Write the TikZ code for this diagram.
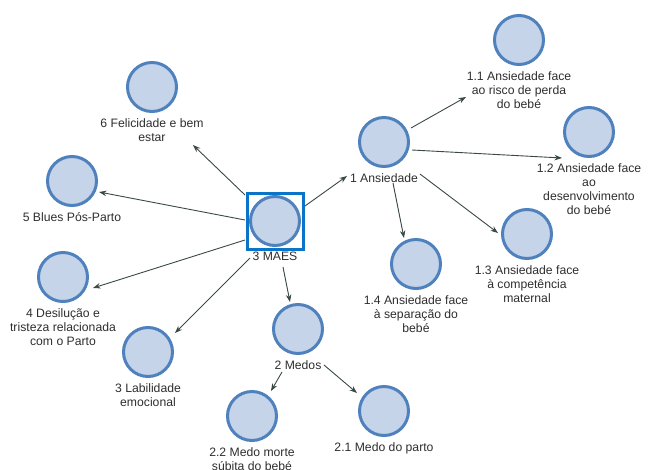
\documentclass[tikz,border=0pt]{standalone}
\usepackage{fontspec}
\setmainfont{Liberation Sans}
\usetikzlibrary{calc,arrows.meta,positioning}
\definecolor{bubblefill}{HTML}{C6D4EA}
\definecolor{bubbleedge}{HTML}{4F81BD}
\definecolor{selbox}{HTML}{0A74C8}
\definecolor{linkcol}{HTML}{3A4848}
\definecolor{textcol}{HTML}{2E2E2E}

\begin{document}
\begin{tikzpicture}[x=1pt,y=-1pt,
  bubble/.style={circle,draw=bubbleedge,fill=bubblefill,line width=3pt,minimum size=49pt,inner sep=0pt},
  caption/.style={inner sep=0pt,align=center,text=textcol,font=\fontsize{12.2}{14}\selectfont},
  link/.style={draw=linkcol,line width=0.9pt,-{Stealth[length=7.5pt,width=5.5pt]}},
  selframe/.style={draw=selbox,line width=3pt,minimum size=56pt,inner sep=0pt}]
\useasboundingbox (0,0) rectangle (651,469);

% bubbles
\node[bubble] (maes) at (275,221) {};
\node[selframe] (sq) at (maes) {};
\node[bubble] (a1)  at (384,142) {};
\node[bubble] (a11) at (519,40)  {};
\node[bubble] (a12) at (589,132) {};
\node[bubble] (a13) at (527,234) {};
\node[bubble] (a14) at (416,264) {};
\node[bubble] (f6)  at (152,87)  {};
\node[bubble] (b5)  at (72,181)  {};
\node[bubble] (d4)  at (63,277)  {};
\node[bubble] (l3)  at (148,352) {};
\node[bubble] (m2)  at (298,329) {};
\node[bubble] (m22) at (252,416) {};
\node[bubble] (m21) at (384,411) {};

% captions under the bubbles
\node[caption,below=5pt of maes] (lmaes) {3 MAES};
\node[caption,below=5pt of a1]  (la1)  {1 Ansiedade};
\node[caption,below=5pt of a11] (la11) {1.1 Ansiedade face\\ao risco de perda\\do bebé};
\node[caption,below=5pt of a12] (la12) {1.2 Ansiedade face\\ao\\desenvolvimento\\do bebé};
\node[caption,below=5pt of a13] (la13) {1.3 Ansiedade face\\à competência\\maternal};
\node[caption,below=5pt of a14] (la14) {1.4 Ansiedade face\\à separação do\\bebé};
\node[caption,below=5pt of f6]  (lf6)  {6 Felicidade e bem\\estar};
\node[caption,below=5pt of b5]  (lb5)  {5 Blues Pós-Parto};
\node[caption,below=5pt of d4]  (ld4)  {4 Desilução e\\tristeza relacionada\\com o Parto};
\node[caption,below=5pt of l3]  (ll3)  {3 Labilidade\\emocional};
\node[caption,below=5pt of m2]  (lm2)  {2 Medos};
\node[caption,below=5pt of m22] (lm22) {2.2 Medo morte\\súbita do bebé};
\node[caption,below=5pt of m21] (lm21) {2.1 Medo do parto};

% links from 3 MAES
\draw[link] ($(maes)+(30,-15)$) -- ($(a1)+(-37,34)$);
\draw[link] ($(maes)+(-30,-26)$) -- ($(f6)+(41,58)$);
\draw[link] ($(maes)+(-30,-1)$) -- ($(b5)+(27,11)$);
\draw[link] ($(maes)+(-30,19)$) -- ($(d4)+(30,11)$);
\draw[link] ($(maes)+(-25,37)$) -- ($(l3)+(27,-19)$);
\draw[link] ($(maes)+(8,46)$) -- ($(m2)+(-8,-27)$);

% links from 1 Ansiedade
\draw[link] ($(a1)+(27,-14)$) -- ($(a11)+(-53,57)$);
\draw[link] ($(a1)+(28,8)$) -- ($(a12)+(-27,26)$);
\draw[link] ($(a1)+(36,32)$) -- ($(a13)+(-29,-1)$);
\draw[link] ($(a1)+(9,41)$) -- ($(a14)+(-12,-26)$);

% links from 2 Medos
\draw[link] ($(m2)+(-16,43)$) -- ($(m22)+(19,-25)$);
\draw[link] ($(m2)+(26,36)$) -- ($(m21)+(-27,-18)$);
\end{tikzpicture}
\end{document}
